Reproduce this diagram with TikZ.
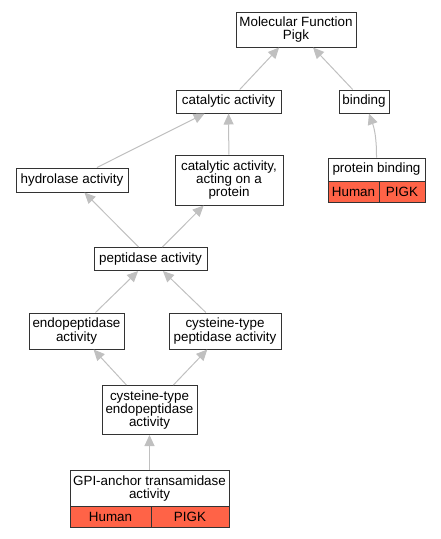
\documentclass[tikz,border=0pt]{standalone}
\usepackage{fontspec}
\setmainfont{Liberation Sans}
\usetikzlibrary{arrows.meta}
\definecolor{ink}{HTML}{000000}
\definecolor{boxline}{HTML}{333333}
\definecolor{edgeline}{HTML}{C0C0C0}
\definecolor{hitfill}{HTML}{FF6347}
\newcommand{\labelsize}{\fontsize{13.4}{13.4}\selectfont}
\tikzset{
 every node/.append style={font=\labelsize,text=ink,align=center},
 term/.style={draw=boxline,fill=white,line width=1pt,inner sep=0pt},
 hit/.style={term,fill=hitfill},
 isa/.style={-{Triangle[length=11pt,width=10pt]},draw=edgeline,line width=1pt},
}

\begin{document}
\begin{tikzpicture}[x=1pt,y=-1pt]

\useasboundingbox (0,0) rectangle (440,539);
\node[term,minimum width=120,minimum height=35] (mf) at (296,29.5) {Molecular Function\\Pigk};
\node[term,minimum width=105,minimum height=23] (cata) at (228.5,101.5) {catalytic activity};
\node[term,minimum width=50,minimum height=23] (bind) at (364,101.5) {binding};
\node[term,minimum width=112,minimum height=24] (hydro) at (72,180) {hydrolase activity};
\node[term,minimum width=108,minimum height=50] (catprot) at (229,180) {catalytic activity,\\acting on a\\protein};
\node[term,minimum width=97,minimum height=23] (pbind) at (376.5,169.5) {protein binding};
\node[hit,minimum width=51,minimum height=21] (pbhuman) at (353.5,191.5) {Human};
\node[hit,minimum width=46,minimum height=21] (pbgene) at (402,191.5) {PIGK};
\node[term,minimum width=113,minimum height=23] (pept) at (150.5,259) {peptidase activity};
\node[term,minimum width=95,minimum height=36] (endo) at (76.5,331) {endopeptidase\\activity};
\node[term,minimum width=112,minimum height=36] (cyspep) at (225,331) {cysteine-type\\peptidase activity};
\node[term,minimum width=95,minimum height=49] (cysendo) at (149.5,410) {cysteine-type\\endopeptidase\\activity};
\node[term,minimum width=159,minimum height=36] (gpi) at (149.5,488.7) {GPI-anchor transamidase\\activity};
\node[hit,minimum width=81,minimum height=21] (gpihuman) at (110.5,517.2) {Human};
\node[hit,minimum width=78,minimum height=21] (gpigene) at (190,517.2) {PIGK};
% is_a links, child to parent
\draw[isa] (cata) -- (mf);
\draw[isa] (bind) -- (mf);
\draw[isa] (hydro) -- (cata);
\draw[isa] (catprot) -- (cata);
\draw[isa] (pbind.north) to[bend right=10] (bind);
\draw[isa] (pept) -- (hydro);
\draw[isa] (pept) -- (catprot);
\draw[isa] (endo) -- (pept);
\draw[isa] (cyspep) -- (pept);
\draw[isa] (cysendo) -- (endo);
\draw[isa] (cysendo) -- (cyspep);
\draw[isa] (gpi) -- (cysendo);

\end{tikzpicture}
\end{document}
